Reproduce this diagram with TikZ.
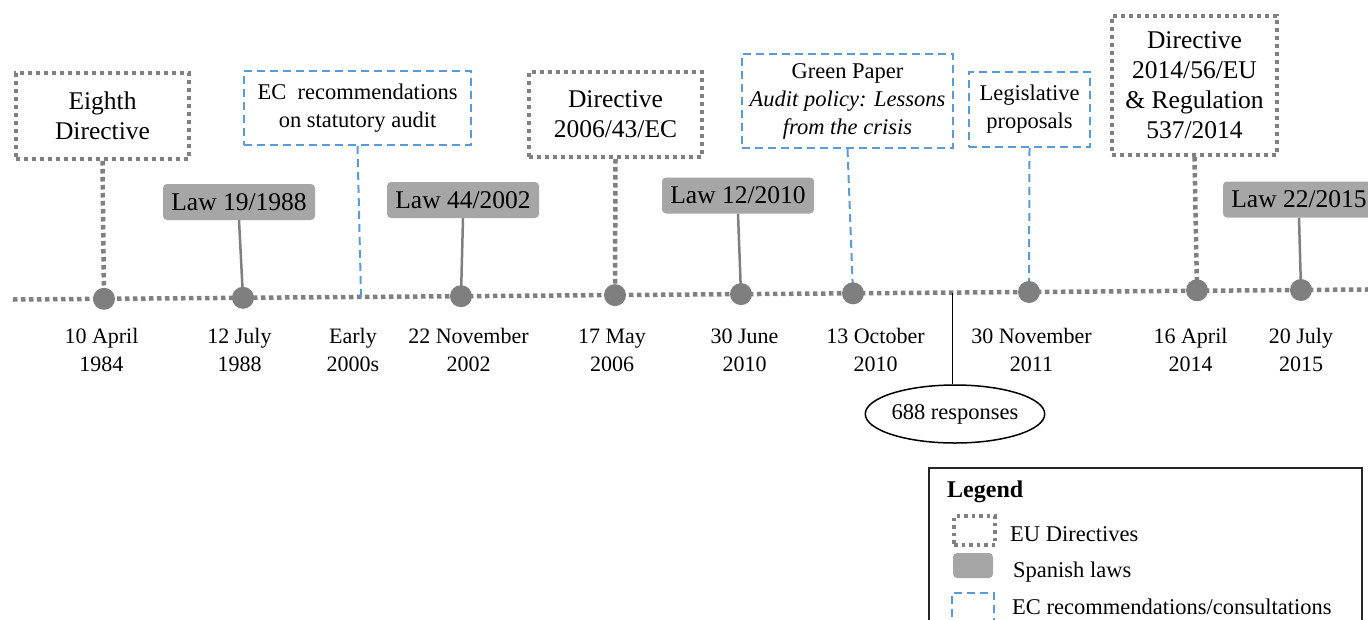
\documentclass[tikz,border=0pt]{standalone}
\usepackage{fontspec}
\setmainfont{Liberation Serif}
\usetikzlibrary{shapes.geometric}
\definecolor{dirgray}{RGB}{128,128,128}
\definecolor{dotgray}{RGB}{127,127,127}
\definecolor{lawgray}{RGB}{166,166,166}
\definecolor{ecblue}{RGB}{91,155,213}
\pgfdeclarelayer{bg}
\pgfsetlayers{bg,main}
\tikzset{
  eudir/.style={draw=dirgray, line width=4pt, dash pattern=on 4pt off 4pt, align=center, inner sep=0pt, font=\rmfamily\fontsize{25.5}{30}\selectfont},
  lawbox/.style={fill=lawgray, rounded corners=4pt, minimum width=152pt, minimum height=36pt, inner sep=0pt, font=\rmfamily\fontsize{25.5}{30}\selectfont},
  ecrec/.style={draw=ecblue, line width=2pt, dash pattern=on 8pt off 5pt, align=center, inner sep=0pt, font=\rmfamily\fontsize{22.5}{28}\selectfont},
  tdot/.style={circle, fill=dotgray, minimum size=22pt, inner sep=0pt},
  datelbl/.style={align=center, anchor=base, font=\rmfamily\fontsize{22}{28}\selectfont},
  tline/.style={draw=dirgray, line width=4.5pt, dash pattern=on 4.5pt off 3.5pt},
  dirconn/.style={draw=dirgray, line width=4.5pt, dash pattern=on 4.5pt off 3.5pt},
  lawconn/.style={draw=dotgray, line width=2.5pt},
  ecconn/.style={draw=ecblue, line width=2pt, dash pattern=on 8pt off 5pt},
  legtext/.style={anchor=base west, inner sep=0pt, font=\rmfamily\fontsize{22.5}{28}\selectfont},
}
\begin{document}
\begin{tikzpicture}[x=1pt, y=-1pt]
\useasboundingbox (0,0) rectangle (1368,619);

% timeline
\coordinate (tstart) at (13,299.5);
\coordinate (tend) at (1380,289.4);
\coordinate (e2000) at (361,296.9);
\coordinate (c688) at (952.5,292.6);

% dots
\node[tdot] (d1984) at (104,298.8) {};
\node[tdot] (d1988) at (243,297.8) {};
\node[tdot] (d2002) at (461,296.2) {};
\node[tdot] (d2006) at (615,295.1) {};
\node[tdot] (d2010a) at (741,294.1) {};
\node[tdot] (d2010b) at (853,293.3) {};
\node[tdot] (d2011) at (1029,292.0) {};
\node[tdot] (d2014) at (1197,290.3) {};
\node[tdot] (d2015) at (1301,290.0) {};

% boxes
\node[eudir, minimum width=173pt, minimum height=86pt] (eighth) at (102.5,116) {Eighth\\Directive};
\node[ecrec, minimum width=227pt, minimum height=74pt] (ecrecs) at (357.5,108) {EC\ \ recommendations\\on statutory audit};
\node[lawbox] (law1988) at (239,202) {Law 19/1988};
\node[lawbox] (law2002) at (463,200) {Law 44/2002};
\node[eudir, minimum width=173pt, minimum height=85pt] (dir2006) at (615.5,114.5) {Directive\\2006/43/EC};
\node[lawbox] (law2010) at (738,195.5) {Law 12/2010};
\node[ecrec, minimum width=211pt, minimum height=94pt] (green) at (847.5,101) {Green Paper\\\textit{Audit policy: Lessons}\\\textit{from the crisis}};
\node[ecrec, minimum width=121pt, minimum height=75pt] (legis) at (1029.5,109.5) {Legislative\\proposals};
\node[eudir, minimum width=165pt, minimum height=139pt] (dir2014) at (1194.5,85.5) {Directive\\2014/56/EU\\\& Regulation\\537/2014};
\node[lawbox] (law2015) at (1299,199.5) {Law 22/2015};

% responses ellipse
\node[ellipse, draw=black, line width=1.5pt, minimum width=176pt, minimum height=58pt, inner sep=0pt, font=\rmfamily\fontsize{22.5}{28}\selectfont] (resp) at (955,414) {688 responses};

% connectors on background
\begin{pgfonlayer}{bg}
\draw[tline] (tstart) -- (tend);
\draw[dirconn] (eighth.south) -- (d1984.center);
\draw[lawconn] (law1988.south) -- (d1988.center);
\draw[ecconn] (ecrecs.south) -- (e2000);
\draw[lawconn] (law2002.south) -- (d2002.center);
\draw[dirconn] (dir2006.south) -- (d2006.center);
\draw[lawconn] (law2010.south) -- (d2010a.center);
\draw[ecconn] (green.south) -- (d2010b.center);
\draw[ecconn] (legis.south) -- (d2011.center);
\draw[dirconn] (dir2014.south) -- (d2014.center);
\draw[lawconn] (law2015.south) -- (d2015.center);
\draw[black, line width=1.8pt] (c688) -- (c688 |- resp.north);
\end{pgfonlayer}

% date labels
\node[datelbl] (l1984) at (101.5,371) {10 April\\1984};
\node[datelbl] (l1988) at (239.5,371) {12 July\\1988};
\node[datelbl] (l2000) at (353,371) {Early\\2000s};
\node[datelbl] (l2002) at (468.5,371) {22 November\\2002};
\node[datelbl] (l2006) at (612,371) {17 May\\2006};
\node[datelbl] (l2010a) at (744.5,371) {30 June\\2010};
\node[datelbl] (l2010b) at (875.5,371) {13 October\\2010};
\node[datelbl] (l2011) at (1031.5,371) {30 November\\2011};
\node[datelbl] (l2014) at (1190.5,371) {16 April\\2014};
\node[datelbl] (l2015) at (1301,371) {20 July\\2015};

% legend
\draw[draw=black!85, line width=1.5pt] (929,468) rectangle (1362,660);
\node[legtext, font=\rmfamily\fontsize{24}{28}\selectfont\bfseries] (legtitle) at (947,497) {Legend};
\node[draw=dirgray, line width=3.5pt, dash pattern=on 3.5pt off 4pt, minimum width=41pt, minimum height=29pt, inner sep=0pt] (legdir) at (974.5,530.5) {};
\node[legtext] (legdirt) at (1010,541) {EU Directives};
\node[fill=lawgray, rounded corners=4pt, minimum width=40pt, minimum height=25pt, inner sep=0pt] (leglaw) at (973,565.5) {};
\node[legtext] (leglawt) at (1013,577) {Spanish laws};
\node[draw=ecblue, line width=2pt, dash pattern=on 8pt off 5pt, minimum width=42pt, minimum height=30pt, inner sep=0pt] (legec) at (973,608) {};
\node[legtext] (legect) at (1012,614) {EC recommendations/consultations};
\end{tikzpicture}
\end{document}
